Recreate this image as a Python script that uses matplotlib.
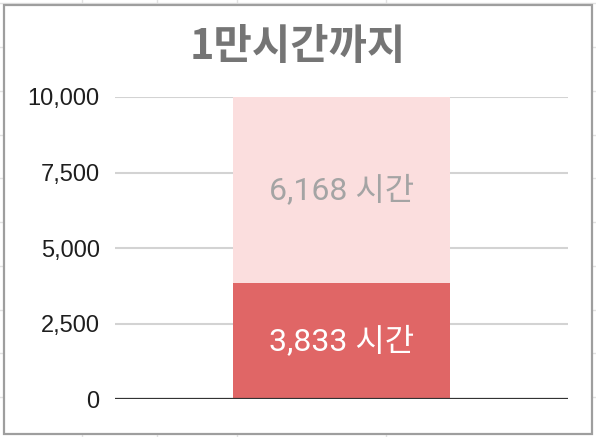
import matplotlib
matplotlib.use("Agg")
import matplotlib.pyplot as plt
from matplotlib.patches import Rectangle
from matplotlib.lines import Line2D
from matplotlib.ticker import FuncFormatter

# Data
categories = ["1만시간"]
done_hours = [3833]
left_hours = [6168]
y_ticks = [0, 2500, 5000, 7500, 10000]
title = "1만시간까지"
unit = "시간"

W, H = 596, 437
fig = plt.figure(figsize=(W / 100, H / 100), dpi=100)
fig.patch.set_facecolor("white")

def fx(px):
    return px / W

def fy(py):
    return 1 - py / H

# Spreadsheet cell grid behind the chart
for ry in [3, 47, 91, 135, 178, 222, 266, 310, 353, 397, 441]:
    fig.add_artist(Line2D([0, 1], [fy(ry), fy(ry)], color="#e2e2e2", lw=1.0, zorder=0))
for cx in [82, 157, 237, 386]:
    fig.add_artist(Line2D([fx(cx), fx(cx)], [0, 1], color="#e2e2e2", lw=1.0, zorder=0))

# Chart frame
fig.add_artist(Rectangle((fx(4), fy(434)), fx(592) - fx(4), fy(5) - fy(434),
                         facecolor="white", edgecolor="#9e9e9e", lw=1.6, zorder=1))

ax = fig.add_axes([fx(115), fy(399), fx(568) - fx(115), fy(97) - fy(399)], zorder=2)
ax.patch.set_alpha(0)

x = list(range(len(categories)))
dark = "#e06666"
light = "#fbdede"
ax.bar(x, done_hours, width=0.48, color=dark, zorder=3)
ax.bar(x, left_hours, width=0.48, bottom=done_hours, color=light, zorder=3)

ax.set_xlim(-0.5, 0.5)
ax.set_ylim(0, 10000)
ax.set_yticks(y_ticks)
ax.yaxis.set_major_formatter(FuncFormatter(lambda v, p: f"{int(v):,}"))
ax.tick_params(axis="y", length=0, pad=11, labelsize=17, labelcolor="#1e1e1e")
for lbl in ax.get_yticklabels():
    lbl.set_family(["Liberation Sans", "DejaVu Sans"])
ax.set_xticks([])
for s in ax.spines.values():
    s.set_visible(False)
ax.grid(axis="y", color="#d3d3d3", lw=1.5, zorder=1)
ax.axhline(0, color="#333333", lw=1.6, zorder=4)

kfont = ["Roboto", "Noto Sans CJK KR", "DejaVu Sans"]
for i in x:
    ax.text(i, done_hours[i] / 2, f"{done_hours[i]:,} {unit}", ha="center", va="center",
            color="white", fontsize=23, family=kfont, zorder=5)
    ax.text(i, done_hours[i] + left_hours[i] / 2, f"{left_hours[i]:,} {unit}", ha="center",
            va="center", color="#a4a4a4", fontsize=23, family=kfont, zorder=5)

fig.text(fx(298), fy(47), title, ha="center", va="center", fontsize=30, fontweight="bold",
         color="#757575", family=["Noto Sans CJK KR", "DejaVu Sans"], zorder=3)

fig.savefig("out.png", dpi=100)
